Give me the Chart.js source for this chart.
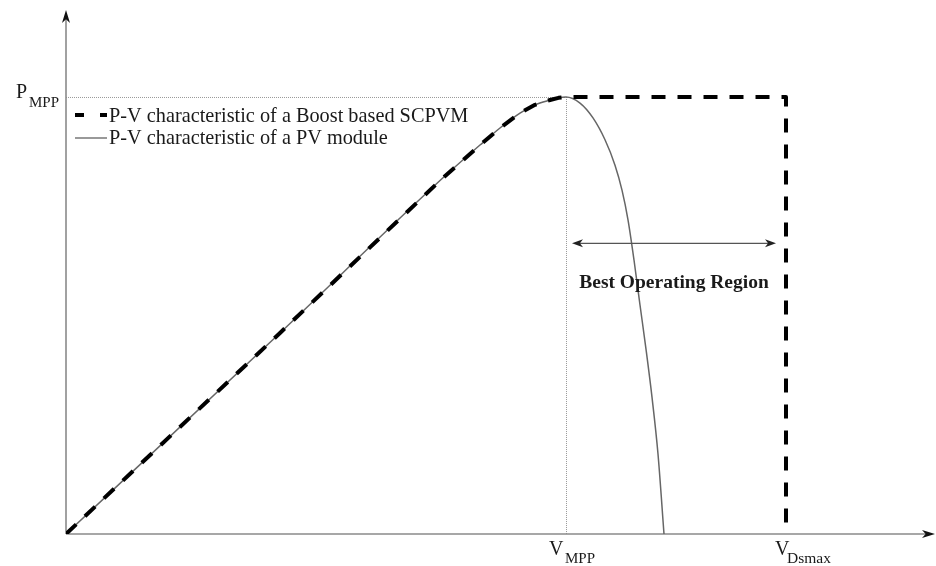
<!DOCTYPE html>
<html>
<head>
<meta charset="utf-8">
<script src="https://cdn.jsdelivr.net/npm/chart.js@4.4.1/dist/chart.umd.min.js"></script>
<style>
html,body{margin:0;padding:0;background:#fff;}
#wrap{width:936px;height:566px;}
</style>
</head>
<body>
<div id="wrap"><canvas id="c" width="936" height="566"></canvas></div>
<script>
// Normalised units: V_MPP = 1, P_MPP = 1
const pvVoltage = [0, 0.428, 0.754, 0.828, 0.868, 0.908, 0.938, 0.968, 0.985, 1.0, 1.028, 1.054, 1.078, 1.098, 1.112, 1.124, 1.136, 1.148, 1.160, 1.172, 1.184, 1.196];
const pvPower   = [0, 0.460, 0.815, 0.890, 0.929, 0.963, 0.982, 0.993, 0.998, 1.0, 0.986, 0.952, 0.902, 0.844, 0.787, 0.719, 0.627, 0.524, 0.423, 0.313, 0.183, 0];
const boostVoltage = [0, 0.428, 0.754, 0.828, 0.868, 0.908, 0.938, 0.968, 0.985, 1.0, 1.44, 1.44];
const boostPower   = [0, 0.460, 0.815, 0.890, 0.929, 0.963, 0.982, 0.993, 0.998, 1.0, 1.0, 0];
const seriesNames = ["P-V characteristic of a Boost based SCPVM", "P-V characteristic of a PV module"];
const vMPP = 1.0, pMPP = 1.0, vDsmax = 1.44;
const regionLabel = "Best Operating Region";

const toPts = (xs, ys) => xs.map((x, i) => ({x: x, y: ys[i]}));
const serif = "'Liberation Serif','Times New Roman',serif";

function arrowHead(ctx, tipX, tipY, dir, len, half) {
  const [dx, dy] = dir;
  const nx = -dy, ny = dx;
  const bx = tipX - dx * len, by = tipY - dy * len;
  const mx = tipX - dx * len * 0.72, my = tipY - dy * len * 0.72;
  ctx.beginPath();
  ctx.moveTo(tipX, tipY);
  ctx.lineTo(bx + nx * half, by + ny * half);
  ctx.lineTo(mx, my);
  ctx.lineTo(bx - nx * half, by - ny * half);
  ctx.closePath();
  ctx.fill();
}

const decor = {
  id: 'decor',
  beforeDatasetsDraw(chart) {
    const ctx = chart.ctx, xs = chart.scales.x, ys = chart.scales.y;
    const ca = chart.chartArea;
    const x0 = xs.getPixelForValue(0), y0 = ys.getPixelForValue(0);
    const xm = xs.getPixelForValue(vMPP), ym = ys.getPixelForValue(pMPP);
    ctx.save();
    ctx.strokeStyle = '#999999';
    ctx.lineWidth = 1;
    ctx.setLineDash([1, 1]);
    ctx.beginPath();
    ctx.moveTo(x0, ym + 0.5); ctx.lineTo(xm, ym + 0.5);
    ctx.moveTo(xm + 0.5, ym); ctx.lineTo(xm + 0.5, y0);
    ctx.stroke();
    ctx.setLineDash([]);
    ctx.strokeStyle = '#8a8a8a';
    ctx.lineWidth = 1.6;
    ctx.beginPath();
    ctx.moveTo(x0, y0); ctx.lineTo(x0, ca.top + 8);
    ctx.moveTo(x0, y0); ctx.lineTo(ca.right - 8, y0);
    ctx.stroke();
    ctx.fillStyle = '#111';
    arrowHead(ctx, x0, ca.top, [0, -1], 13, 4);
    arrowHead(ctx, ca.right, y0, [1, 0], 13, 4);
    ctx.restore();
  },
  afterDraw(chart) {
    const ctx = chart.ctx, xs = chart.scales.x, ys = chart.scales.y;
    const y0 = ys.getPixelForValue(0);
    const xm = xs.getPixelForValue(vMPP), ym = ys.getPixelForValue(pMPP);
    const xd = xs.getPixelForValue(vDsmax);
    ctx.save();
    ctx.fillStyle = '#1a1a1a';
    ctx.textBaseline = 'alphabetic';
    ctx.textAlign = 'left';
    ctx.font = '20px ' + serif;
    ctx.fillText('P', 16, ym + 1);
    ctx.font = '15px ' + serif;
    ctx.fillText('MPP', 29, ym + 10);
    ctx.font = '20px ' + serif;
    ctx.fillText('V', xm - 17, y0 + 21);
    ctx.font = '15px ' + serif;
    ctx.fillText('MPP', xm - 1, y0 + 29);
    ctx.font = '20px ' + serif;
    ctx.fillText('V', xd - 11, y0 + 21);
    ctx.font = '15.5px ' + serif;
    ctx.fillText('Dsmax', xd + 1, y0 + 29);

    // legend
    const lx = 75, r1 = 117, r2 = 139;
    ctx.strokeStyle = '#000';
    ctx.lineWidth = 4;
    ctx.beginPath();
    ctx.moveTo(lx, r1 - 2); ctx.lineTo(lx + 9, r1 - 2);
    ctx.moveTo(lx + 25, r1 - 2); ctx.lineTo(lx + 32, r1 - 2);
    ctx.stroke();
    ctx.strokeStyle = '#555';
    ctx.lineWidth = 1.2;
    ctx.beginPath();
    ctx.moveTo(lx, r2 - 1); ctx.lineTo(lx + 32, r2 - 1);
    ctx.stroke();
    ctx.font = '20.3px ' + serif;
    ctx.textBaseline = 'middle';
    ctx.fillText(seriesNames[0], lx + 34, r1);
    ctx.fillText(seriesNames[1], lx + 34, r2);

    // best operating region
    const ay = ys.getPixelForValue(0.665);
    const ax1 = xm + 6, ax2 = xd - 10;
    ctx.strokeStyle = '#555';
    ctx.lineWidth = 1.2;
    ctx.beginPath();
    ctx.moveTo(ax1 + 4, ay); ctx.lineTo(ax2 - 4, ay);
    ctx.stroke();
    ctx.fillStyle = '#222';
    arrowHead(ctx, ax1, ay, [-1, 0], 11, 4);
    arrowHead(ctx, ax2, ay, [1, 0], 11, 4);
    ctx.fillStyle = '#1a1a1a';
    ctx.font = 'bold 19.5px ' + serif;
    ctx.textAlign = 'center';
    ctx.fillText(regionLabel, (ax1 + ax2) / 2, ay + 40);
    ctx.restore();
  }
};

new Chart(document.getElementById('c'), {
  type: 'scatter',
  data: {
    datasets: [
      {
        label: seriesNames[0],
        data: toPts(boostVoltage, boostPower),
        showLine: true,
        borderColor: '#000',
        borderWidth: 4,
        borderDash: [14, 12],
        borderCapStyle: 'butt',
        borderJoinStyle: 'round',
        tension: 0,
        pointRadius: 0,
        fill: false
      },
      {
        label: seriesNames[1],
        data: toPts(pvVoltage, pvPower),
        showLine: true,
        borderColor: '#666',
        borderWidth: 1.5,
        cubicInterpolationMode: 'monotone',
        pointRadius: 0,
        fill: false
      }
    ]
  },
  options: {
    responsive: false,
    animation: false,
    layout: { padding: { left: 66, top: 10, right: 1, bottom: 32 } },
    scales: {
      x: { type: 'linear', min: 0, max: 1.738, display: false },
      y: { type: 'linear', min: 0, max: 1.199, display: false }
    },
    plugins: { legend: { display: false }, tooltip: { enabled: false } }
  },
  plugins: [decor]
});
</script>
</body>
</html>
